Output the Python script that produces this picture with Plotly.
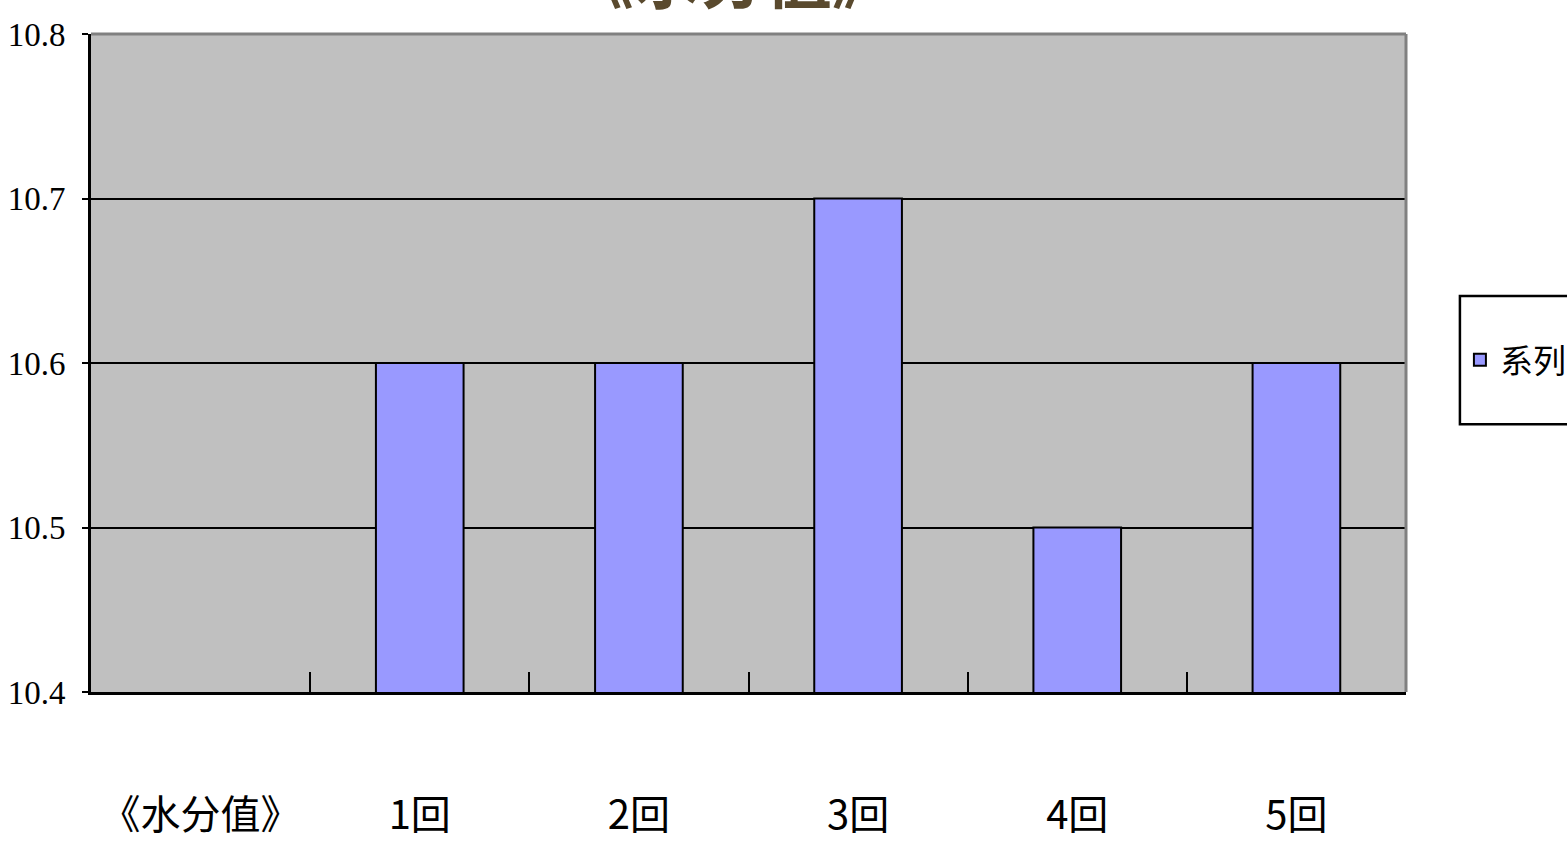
import plotly.graph_objects as go

categories = ["《水分值》", "1回", "2回", "3回", "4回", "5回"]
values = [None, 10.6, 10.6, 10.7, 10.5, 10.6]
series_name = "系列1"
title_text = "《水分值》"
y_ticks = [10.4, 10.5, 10.6, 10.7, 10.8]

fig = go.Figure()
fig.add_trace(go.Bar(
    x=categories, y=values, name=series_name,
    marker=dict(color="#9999FF", line=dict(color="black", width=2)),
    width=0.40,
))

fig.update_layout(
    width=1567, height=846,
    margin=dict(l=91, r=161, t=34, b=154, autoexpand=False),
    paper_bgcolor="white",
    plot_bgcolor="#C0C0C0",
    showlegend=True,
    title=dict(
        text="<b>" + title_text + "</b>",
        xref="paper", yref="paper", x=0.488, y=1.0,
        xanchor="center", yanchor="bottom",
        pad=dict(b=31, t=0, l=0, r=0),
        font=dict(family="Noto Sans CJK SC", size=66, color="#5A4A2E"),
        automargin=False,
    ),
    legend=dict(
        x=1.041, y=0.505, xanchor="left", yanchor="middle",
        bgcolor="rgba(0,0,0,0)", borderwidth=0,
        font=dict(family="Noto Sans CJK SC", size=33, color="black"),
    ),
    font=dict(family="Liberation Serif, Noto Sans CJK SC", color="black"),
    shapes=[
        dict(type="line", xref="paper", yref="paper", x0=0, x1=1, y0=1, y1=1,
             line=dict(color="#808080", width=3)),
        dict(type="line", xref="paper", yref="paper", x0=1, x1=1, y0=0, y1=1,
             line=dict(color="#808080", width=3)),
        dict(type="rect", xref="paper", yref="paper",
             x0=1.041, x1=1.2, y0=0.407, y1=0.602,
             line=dict(color="black", width=2.5), fillcolor="rgba(0,0,0,0)"),
    ],
)

fig.update_xaxes(
    type="category",
    tickson="boundaries",
    ticks="inside", ticklen=20, tickwidth=2, tickcolor="black",
    showline=True, linecolor="black", linewidth=3,
    showgrid=False,
    ticklabelstandoff=86,
    tickfont=dict(family="Noto Sans CJK SC", size=40, color="black"),
)
fig.update_yaxes(
    range=[10.4, 10.8],
    tickvals=y_ticks,
    ticktext=[f"{v:.1f}" for v in y_ticks],
    ticks="outside", ticklen=6, tickwidth=2, tickcolor="black",
    showline=True, linecolor="black", linewidth=3,
    showgrid=True, gridcolor="black", gridwidth=1.5,
    zeroline=False,
    ticklabelstandoff=10,
    tickfont=dict(family="Liberation Serif", size=33, color="black"),
)

fig.write_html(
    "out.html",
    config={"displayModeBar": False},
    post_script="document.body.style.margin='0';document.body.style.overflow='hidden';",
)
